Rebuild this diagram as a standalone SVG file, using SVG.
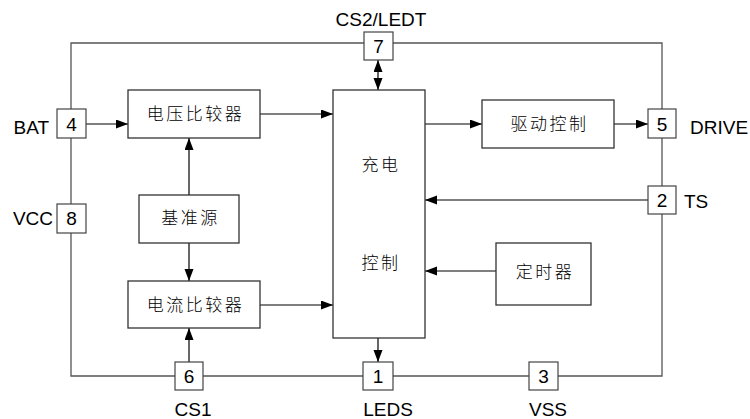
<svg xmlns="http://www.w3.org/2000/svg" width="750" height="419" viewBox="0 0 750 419">
<defs>
<style>
.frame{fill:none;stroke:#555;stroke-width:1.3}
.box{fill:#fff;stroke:#333;stroke-width:1.3}
.pin{fill:#fff;stroke:#444;stroke-width:1.2}
.arr{fill:none;stroke:#000;stroke-width:1.2}
.lbl{font-family:"Liberation Sans",Arial,sans-serif;font-size:19px;fill:#000}
.num{font-family:"Liberation Sans",Arial,sans-serif;font-size:19px;fill:#000;text-anchor:middle}
.cn{font-family:"Noto Sans CJK SC","Noto Sans",sans-serif;font-size:17px;font-weight:300;fill:#000;text-anchor:middle;letter-spacing:2.5px}
</style>
<marker id="ah" markerUnits="userSpaceOnUse" markerWidth="13" markerHeight="10" refX="12" refY="4.5" orient="auto-start-reverse">
<path d="M0,0 L12,4.5 L0,9 z" fill="#000"/>
</marker>
</defs>
<rect width="750" height="419" fill="#fff"/>
<g id="connectors">
<path class="frame" d="M71,109 V43 H364 M393,43 H662 V109 M662,138 V186 M662,214 V376 H558 M529,376 H393 M363,376 H203 M175,376 H71 V233 M71,204 V138"/>
<line class="arr" x1="86" y1="124" x2="128" y2="124" marker-end="url(#ah)"/>
<line class="arr" x1="260" y1="114" x2="333" y2="114" marker-end="url(#ah)"/>
<line class="arr" x1="189" y1="195" x2="189" y2="138" marker-end="url(#ah)"/>
<line class="arr" x1="189" y1="243" x2="189" y2="281" marker-end="url(#ah)"/>
<line class="arr" x1="260" y1="305" x2="333" y2="305" marker-end="url(#ah)"/>
<line class="arr" x1="189" y1="362" x2="189" y2="328" marker-end="url(#ah)"/>
<line class="arr" x1="378" y1="60" x2="378" y2="90" marker-start="url(#ah)" marker-end="url(#ah)"/>
<line class="arr" x1="378" y1="338" x2="378" y2="362" marker-end="url(#ah)"/>
<line class="arr" x1="425" y1="124" x2="482" y2="124" marker-end="url(#ah)"/>
<line class="arr" x1="614" y1="124" x2="648" y2="124" marker-end="url(#ah)"/>
<line class="arr" x1="648" y1="200" x2="425" y2="200" marker-end="url(#ah)"/>
<line class="arr" x1="496" y1="271" x2="425" y2="271" marker-end="url(#ah)"/>
</g>
<g id="voltage-comparator"><rect class="box" x="128" y="90" width="132" height="48"/><text class="cn" x="195.5" y="120">电压比较器</text></g>
<g id="reference"><rect class="box" x="139" y="195" width="100" height="48"/><text class="cn" x="190.5" y="224">基准源</text></g>
<g id="current-comparator"><rect class="box" x="128" y="281" width="132" height="47"/><text class="cn" x="195.5" y="311">电流比较器</text></g>
<g id="charge-control"><rect class="box" x="333" y="90" width="92" height="248"/><text class="cn" x="381" y="171">充电</text><text class="cn" x="381" y="269">控制</text></g>
<g id="drive-control"><rect class="box" x="482" y="100" width="132" height="48"/><text class="cn" x="549.5" y="130">驱动控制</text></g>
<g id="timer"><rect class="box" x="496" y="243" width="95" height="62"/><text class="cn" x="545" y="278">定时器</text></g>
<g id="pin4"><rect class="pin" x="57" y="109" width="29" height="29"/><text class="num" x="71.5" y="130.5">4</text><text class="lbl" x="49" y="133.5" text-anchor="end">BAT</text></g>
<g id="pin8"><rect class="pin" x="57" y="204" width="29" height="29"/><text class="num" x="71.5" y="225">8</text><text class="lbl" x="53" y="225" text-anchor="end">VCC</text></g>
<g id="pin7"><rect class="pin" x="364" y="32" width="29" height="28"/><text class="num" x="378.5" y="53">7</text><text class="lbl" x="381" y="26" text-anchor="middle">CS2/LEDT</text></g>
<g id="pin5"><rect class="pin" x="648" y="109" width="28" height="29"/><text class="num" x="662" y="130.5">5</text><text class="lbl" x="690" y="133.5">DRIVE</text></g>
<g id="pin2"><rect class="pin" x="648" y="186" width="28" height="28"/><text class="num" x="662" y="207">2</text><text class="lbl" x="684" y="208">TS</text></g>
<g id="pin6"><rect class="pin" x="175" y="362" width="28" height="28"/><text class="num" x="189" y="383">6</text><text class="lbl" x="193" y="416" text-anchor="middle">CS1</text></g>
<g id="pin1"><rect class="pin" x="363" y="362" width="30" height="28"/><text class="num" x="378" y="383">1</text><text class="lbl" x="388" y="416" text-anchor="middle">LEDS</text></g>
<g id="pin3"><rect class="pin" x="529" y="362" width="29" height="28"/><text class="num" x="543.5" y="383">3</text><text class="lbl" x="548" y="416" text-anchor="middle">VSS</text></g>
</svg>
